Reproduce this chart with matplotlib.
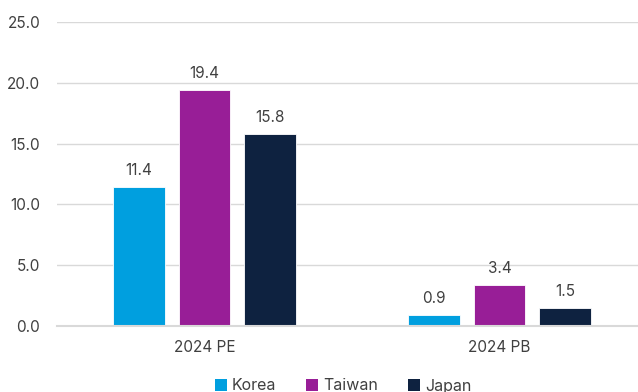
import numpy as np
import matplotlib.pyplot as plt
from matplotlib.patches import Patch

plt.rcParams['font.family'] = ['Inter', 'DejaVu Sans']

categories = ['2024 PE', '2024 PB']
series = ['Korea', 'Taiwan', 'Japan']
korea = [11.4, 0.9]
taiwan = [19.4, 3.4]
japan = [15.8, 1.5]
colors = ['#009FDF', '#981E97', '#0E2240']
y_ticks = [0, 5, 10, 15, 20, 25]

text_color = '#404040'

fig = plt.figure(figsize=(6.38, 3.92), dpi=100)
ax = fig.add_axes([57 / 638, 66 / 392, 590 / 638, 304 / 392])

x = np.arange(len(categories))
width = 0.173
step = 0.222
for i, (vals, c) in enumerate(zip([korea, taiwan, japan], colors)):
    pos = x + (i - 1) * step
    bars = ax.bar(pos, vals, width, color=c, edgecolor='white', linewidth=0.6, zorder=3)
    for b, v in zip(bars, vals):
        ax.text(b.get_x() + b.get_width() / 2, v + 0.75, f'{v:.1f}',
                ha='center', va='bottom', fontsize=11, color=text_color)

ax.set_xlim(-0.5, 1.5)
ax.set_ylim(0, 25)
ax.set_yticks(y_ticks)
ax.set_yticklabels([f'{t:.1f}' for t in y_ticks])
ax.set_xticks(x)
ax.set_xticklabels(categories)
ax.tick_params(axis='both', length=0, labelsize=11, labelcolor=text_color)
ax.tick_params(axis='y', pad=12)
ax.tick_params(axis='x', pad=10)
ax.yaxis.grid(True, color='#d9d9d9', linewidth=1, zorder=0)
for s in ['top', 'right', 'left']:
    ax.spines[s].set_visible(False)
ax.spines['bottom'].set_color('#d9d9d9')
ax.spines['bottom'].set_linewidth(1.5)
ax.spines['bottom'].set_zorder(4)

handles = [Patch(facecolor=c, label=s) for s, c in zip(series, colors)]
fig.legend(handles=handles, loc='center', bbox_to_anchor=(343 / 638, 6 / 392),
           ncol=3, frameon=False, fontsize=11.5, handlelength=0.75, handleheight=0.75,
           handletextpad=0.3, columnspacing=1.9, labelcolor=text_color)

fig.savefig('out.png', dpi=100)
